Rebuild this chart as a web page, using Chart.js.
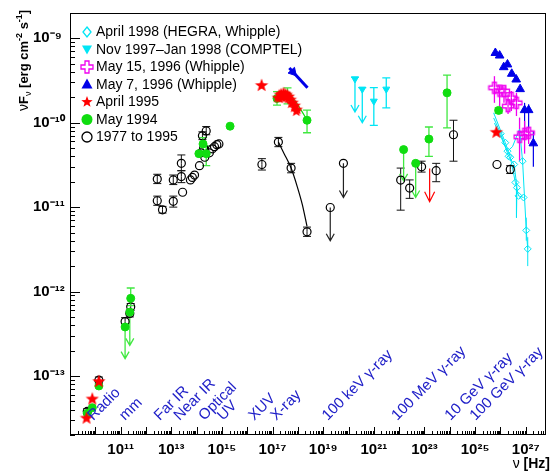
<!DOCTYPE html>
<html><head><meta charset="utf-8">
<script src="https://cdn.jsdelivr.net/npm/chart.js"></script>
<style>html,body{margin:0;padding:0;background:#fff;}canvas{display:block;}</style>
</head><body>
<canvas id="c" width="552" height="472"></canvas>
<script>
// ================= DATA =================
// 1977 to 1995 (black open circles)
const histNu = [4.8e9,1.38e10,1.5e11,2.3e11,2.5e11,2.8e12,2.8e12,4.5e12,1.2e13,1.2e13,2.5e13,2.5e13,2.8e13,5.7e13,6.8e13,8.3e13,1.3e14,1.5e14,1.9e14,1.7e14,2.4e14,2.1e14,3.2e14,4.2e14,5.1e14,6.3e14,7.6e14,3.8e16,1.7e17,5.4e17,2.3e18,1.15e22,2.6e22,7.7e22,2.9e23,1.4e24,7.3e25,2.45e26];
const histF  = [3.8e-14,8.9e-14,4.4e-13,5.5e-13,6.6e-13,2.15e-11,1.19e-11,9.3e-12,2.1e-11,1.17e-11,2.3e-11,3.3e-11,1.5e-11,2.1e-11,2.25e-11,2.4e-11,3.1e-11,4.4e-11,5.0e-11,7.0e-11,8.0e-11,3.9e-11,4.4e-11,4.9e-11,5.2e-11,5.5e-11,5.6e-11,3.2e-11,5.9e-11,2.9e-11,5.1e-12,2.09e-11,1.68e-11,3.0e-11,2.7e-11,7.2e-11,3.2e-11,2.8e-11];
const histLo = [3.5e-14,8.1e-14,3.9e-13,5.0e-13,6.0e-13,1.9e-11,1.05e-11,8.5e-12,1.85e-11,1.0e-11,1.95e-11,2.7e-11,null,null,null,null,null,null,null,6.3e-11,7.2e-11,null,null,null,null,null,null,2.75e-11,5.2e-11,2.55e-11,4.5e-12,9.2e-12,1.27e-11,2.6e-11,2.0e-11,3.5e-11,null,2.5e-11];
const histHi = [4.1e-14,9.7e-14,4.9e-13,6.0e-13,7.2e-13,2.45e-11,1.35e-11,1.02e-11,2.4e-11,1.35e-11,2.7e-11,4.15e-11,null,null,null,null,null,null,null,7.8e-11,9.0e-11,null,null,null,null,null,null,3.75e-11,6.7e-11,3.3e-11,5.8e-12,2.9e-11,2.1e-11,3.5e-11,3.3e-11,1.07e-10,null,3.1e-11];
const histUlNu = [1.9e19,6.3e19];
const histUlF  = [9.9e-12,3.3e-11];
const histUlTo = [4.0e-12,1.3e-11];
const histCurveNu = [1.7e17,2.9e17,5.4e17,9.5e17,1.5e18,2.3e18];
const histCurveF  = [5.9e-11,4.27e-11,2.9e-11,1.74e-11,1.07e-11,5.9e-12];

// May 1994 (green filled circles)
const mayNu = [4.8e9,7.6e9,1.38e10,2.5e11,1.23e14,1.8e14,2.4e14,2.1e15,1.5e17,3.9e17,2.3e18,1.5e23,7.8e23,8.5e25];
const mayF  = [3.6e-14,4.2e-14,7.6e-14,8.3e-13,4.3e-11,5.6e-11,4.3e-11,9.1e-11,1.94e-10,2.07e-10,1.07e-10,6.4e-11,2.26e-10,1.4e-10];
const mayLo = [null,null,null,6.8e-13,null,4.6e-11,3.1e-11,null,1.62e-10,1.67e-10,7.6e-11,4.0e-11,8.7e-11,1.3e-10];
const mayHi = [null,null,null,1.1e-12,null,6.65e-11,5.3e-11,null,2.33e-10,2.58e-10,1.41e-10,8.9e-11,3.66e-10,1.5e-10];
const mayUlNu = [1.5e11,2.3e11,1.5e22,4.5e22];
const mayUlF  = [3.8e-13,5.7e-13,4.8e-11,3.3e-11];
const mayUlTo = [1.6e-13,2.3e-13,2.05e-11,1.3e-11];
const mayCurveNu = [1.4e17,2.4e17,4.6e17,7.9e17,1.36e18,2.3e18];
const mayCurveF  = [2.0e-10,2.3e-10,2.18e-10,1.8e-10,1.4e-10,1.08e-10];

// April 1995 (red stars)
const aprNu = [4.5e9,7.6e9,1.38e10,3.7e16,1.55e17,1.86e17,2.2e17,2.7e17,3.2e17,3.8e17,4.6e17,5.5e17,6.6e17,7.9e17,9.5e17,1.86e17,2.45e17,3.2e17,4.2e17,5.5e17,7.2e17,8.7e17,6.9e25];
const aprF  = [3.2e-14,5.4e-14,8.7e-14,2.8e-10,2.0e-10,2.18e-10,2.24e-10,2.3e-10,2.24e-10,2.18e-10,2.07e-10,1.9e-10,1.75e-10,1.62e-10,1.45e-10,1.96e-10,2.0e-10,2.0e-10,1.96e-10,1.71e-10,1.53e-10,1.38e-10,7.8e-11];
const aprUlNu = [1.6e23];
const aprUlF  = [2.86e-11];
const aprUlTo = [1.16e-11];

// May 7, 1996 (Whipple) - blue triangles
const may7Nu = [6.3e25,9.3e25,1.35e26,1.9e26,2.8e26,4.2e26,6.0e26,9.0e26,1.3e27,2.0e27];
const may7F  = [6.7e-10,6.25e-10,4.55e-10,4.9e-10,3.8e-10,3.25e-10,2.5e-10,1.41e-10,1.41e-10,5.7e-11];
const may7Lo = [null,null,null,null,null,null,null,8.0e-11,8.5e-11,3.0e-11];
const may7Hi = [null,null,null,null,null,null,null,1.72e-10,1.65e-10,8.0e-11];
const may7XNu = [4.6e17,2.4e18];
const may7XF  = [4.46e-10,2.59e-10];
const may7XMarkNu = [6.4e17];
const may7XMarkF  = [3.98e-10];

// May 15, 1996 (Whipple) - magenta open crosses
const may15Nu = [5.8e25,9.3e25,1.38e26,2.0e26,2.7e26,4.3e26,5.7e26,9.0e26,1.3e27];
const may15F  = [2.6e-10,2.4e-10,2.37e-10,1.57e-10,1.97e-10,1.72e-10,6.8e-11,7.4e-11,7.6e-11];
const may15Lo = [1.72e-10,1.57e-10,1.72e-10,1.27e-10,1.38e-10,1.2e-10,3.5e-11,4.3e-11,5.6e-11];
const may15Hi = [3.56e-10,2.71e-10,2.71e-10,2.18e-10,2.37e-10,2.26e-10,1.15e-10,1.05e-10,8.7e-11];

// Nov 1997 - Jan 1998 (COMPTEL) - cyan down triangles
const comptelNu = [1.8e20,3.5e20,1.0e21,3.1e21];
const comptelF  = [3.3e-10,2.5e-10,1.8e-10,2.5e-10];
const comptelLo = [null,null,9.3e-11,1.5e-10];
const comptelHi = [3.47e-10,2.6e-10,2.6e-10,3.4e-10];
const comptelUlNu = [1.8e20,3.5e20];
const comptelUlF  = [3.3e-10,2.5e-10];
const comptelUlTo = [1.34e-10,1.0e-10];

// April 1998 (HEGRA, Whipple) - cyan open diamonds, nightly spectra
const hegra1Nu = [5.4e25,1.56e26,2.45e26,3.9e26,5.2e26,8.2e26];
const hegra1F  = [1.31e-10,5.8e-11,3.9e-11,1.96e-11,1.36e-11,1.3e-11];
const hegra2Nu = [5.4e25,1.03e26,2.1e26,3.5e26,4.5e26,4.3e26];
const hegra2F  = [1.14e-10,7.4e-11,4.0e-11,3.2e-11,1.7e-11,7.5e-12];
const hegra3Nu = [5.8e25,1.24e26,1.9e26,3.0e26,5.7e26,7.5e26,1.05e27,1.2e27];
const hegra3F  = [9.9e-11,6.1e-11,4.6e-11,5.2e-11,8.4e-11,3.5e-11,5.3e-12,3.2e-12];
const hegra3Lo = [null,null,null,null,null,null,4.0e-12,2.0e-12];
const hegra3Hi = [null,null,null,null,null,null,7.5e-12,4.4e-12];

// Band labels along the frequency axis
const bandNames = ["Radio","mm","Far IR","Near IR","Optical","UV","XUV","X-ray","100 keV γ-ray","100 MeV γ-ray","10 GeV γ-ray","100 GeV γ-ray"];
const bandNu    = [8.3e9,1.5e11,3.5e12,2.1e13,2.0e14,1.1e15,1.9e16,1.4e17,1.5e19,8.5e21,1.07e24,1.03e25];

// Axis ticks
const xTickExps  = [9,10,11,12,13,14,15,16,17,18,19,20,21,22,23,24,25,26,27];
const xLabelExps = [11,13,15,17,19,21,23,25,27];
const yTickExps  = [-13,-12,-11,-10,-9];
const yLabelExps = [-13,-12,-11,-10,-9];

const legendLabels = ["April 1998 (HEGRA, Whipple)","Nov 1997–Jan 1998 (COMPTEL)","May 15, 1996 (Whipple)","May 7, 1996 (Whipple)","April 1995","May 1994","1977 to 1995"];

// ================= STYLE =================
const C_CYAN = '#00e5f5', C_MAG = '#f000f0', C_BLUE = '#0000e8', C_RED = '#ff0000',
      C_GREEN = '#10dd10', C_GREEN_BAR = '#40e840', C_BLACK = '#000000', C_BAND = '#2020c8';
const FONT = '"Liberation Sans", Arial, Helvetica, sans-serif';

function starPath(g, x, y, r) {
  g.beginPath();
  for (let i = 0; i < 10; i++) {
    const rr = i % 2 === 0 ? r : r * 0.42;
    const a = -Math.PI / 2 + i * Math.PI / 5;
    const px = x + rr * Math.cos(a), py = y + rr * Math.sin(a);
    i === 0 ? g.moveTo(px, py) : g.lineTo(px, py);
  }
  g.closePath();
}
function plusPath(g, x, y, r) {
  const w = r * 0.33;
  g.beginPath();
  g.moveTo(x - w, y - r); g.lineTo(x + w, y - r); g.lineTo(x + w, y - w); g.lineTo(x + r, y - w);
  g.lineTo(x + r, y + w); g.lineTo(x + w, y + w); g.lineTo(x + w, y + r); g.lineTo(x - w, y + r);
  g.lineTo(x - w, y + w); g.lineTo(x - r, y + w); g.lineTo(x - r, y - w); g.lineTo(x - w, y - w);
  g.closePath();
}
function makeImg(size, draw) {
  const c = document.createElement('canvas'); c.width = size; c.height = size;
  draw(c.getContext('2d'), size / 2, size / 2); return c;
}
const starBig = makeImg(16, (g, x, y) => { starPath(g, x, y + 0.6, 7); g.fillStyle = C_RED; g.fill(); });
const starSmall = makeImg(14, (g, x, y) => { starPath(g, x, y + 0.5, 6); g.fillStyle = C_RED; g.fill(); });
const plusImg = makeImg(14, (g, x, y) => { plusPath(g, x, y, 5.5); g.strokeStyle = C_MAG; g.lineWidth = 1.4; g.stroke(); });

const pts = (nu, f) => nu.map((v, i) => ({ x: v, y: f[i] }));

const datasets = [
  { label: 'April 1995', data: pts(aprNu, aprF), showLine: false,
    pointStyle: aprNu.map((v, i) => (i < 4 || i === aprNu.length - 1) ? starBig : starSmall) },
  { label: 'May 15, 1996 (Whipple)', data: pts(may15Nu, may15F), showLine: false, pointStyle: plusImg },
  { label: 'May 7, 1996 (Whipple)', data: pts(may7Nu, may7F), showLine: false, pointStyle: 'triangle',
    pointRadius: 5, backgroundColor: C_BLUE, borderColor: C_BLUE, borderWidth: 1 },
  { label: 'May 7 X', data: pts(may7XMarkNu, may7XMarkF), showLine: false, pointStyle: 'triangle', rotation: 138,
    pointRadius: 5, backgroundColor: C_BLUE, borderColor: C_BLUE, borderWidth: 1 },
  { label: 'May 7 Xline', data: pts(may7XNu, may7XF), showLine: true, borderColor: C_BLUE, borderWidth: 3, pointRadius: 0 },
  { label: 'May 1994', data: pts(mayNu, mayF), showLine: false, pointStyle: 'circle', pointRadius: 4,
    backgroundColor: C_GREEN, borderColor: C_GREEN, borderWidth: 1 },
  { label: 'May 1994 UL', data: pts(mayUlNu, mayUlF), showLine: false, pointStyle: 'circle', pointRadius: 4,
    backgroundColor: C_GREEN, borderColor: C_GREEN, borderWidth: 1 },
  { label: '1977 to 1995', data: pts(histNu, histF), showLine: false, pointStyle: 'circle', pointRadius: 4,
    backgroundColor: 'rgba(0,0,0,0)', borderColor: C_BLACK, borderWidth: 1.2 },
  { label: '1977 UL', data: pts(histUlNu, histUlF), showLine: false, pointStyle: 'circle', pointRadius: 4,
    backgroundColor: 'rgba(0,0,0,0)', borderColor: C_BLACK, borderWidth: 1.2 },
  { label: 'COMPTEL', data: pts(comptelNu, comptelF), showLine: false, pointStyle: 'triangle', rotation: 180,
    pointRadius: 4, backgroundColor: C_CYAN, borderColor: C_CYAN, borderWidth: 1 },
  { label: 'HEGRA 1', data: pts(hegra1Nu, hegra1F), showLine: true, borderColor: C_CYAN, borderWidth: 1,
    pointStyle: 'rectRot', pointRadius: [0,3.5,3.5,3.5,3.5,3.5], backgroundColor: 'rgba(0,0,0,0)', pointBorderColor: C_CYAN, pointBorderWidth: 1 },
  { label: 'HEGRA 2', data: pts(hegra2Nu, hegra2F), showLine: true, borderColor: C_CYAN, borderWidth: 1,
    pointStyle: 'rectRot', pointRadius: [0,3.5,3.5,3.5,3.5,0], backgroundColor: 'rgba(0,0,0,0)', pointBorderColor: C_CYAN, pointBorderWidth: 1 },
  { label: 'HEGRA 3', data: pts(hegra3Nu, hegra3F), showLine: true, borderColor: C_CYAN, borderWidth: 1,
    pointStyle: 'rectRot', pointRadius: [0,0,3.5,0,0,3.5,3.5,3.5], backgroundColor: 'rgba(0,0,0,0)', pointBorderColor: C_CYAN, pointBorderWidth: 1 },
  { label: 'May 1994 model', data: pts(mayCurveNu, mayCurveF), showLine: true, borderColor: C_GREEN, borderWidth: 1.2,
    pointRadius: 0, tension: 0.4, cubicInterpolationMode: 'monotone' },
  { label: '1977 model', data: pts(histCurveNu, histCurveF), showLine: true, borderColor: C_BLACK, borderWidth: 1.2,
    pointRadius: 0, tension: 0.4, cubicInterpolationMode: 'monotone' }
];

const errGroups = [
  { nu: histNu, f: histF, lo: histLo, hi: histHi, color: '#111', lw: 1, cap: 4 },
  { nu: mayNu, f: mayF, lo: mayLo, hi: mayHi, color: C_GREEN_BAR, lw: 1.3, cap: 4 },
  { nu: may7Nu, f: may7F, lo: may7Lo, hi: may7Hi, color: C_BLUE, lw: 1.2, cap: 0 },
  { nu: may15Nu, f: may15F, lo: may15Lo, hi: may15Hi, color: C_MAG, lw: 1.3, cap: 0 },
  { nu: comptelNu, f: comptelF, lo: comptelLo, hi: comptelHi, color: C_CYAN, lw: 1.3, cap: 4 },
  { nu: hegra3Nu, f: hegra3F, lo: hegra3Lo, hi: hegra3Hi, color: C_CYAN, lw: 1, cap: 0 }
];
const ulGroups = [
  { nu: histUlNu, f: histUlF, to: histUlTo, color: '#222', lw: 1.2, hw: 4, hh: 7 },
  { nu: mayUlNu, f: mayUlF, to: mayUlTo, color: C_GREEN_BAR, lw: 1.3, hw: 4, hh: 7 },
  { nu: aprUlNu, f: aprUlF, to: aprUlTo, color: C_RED, lw: 1.2, hw: 5, hh: 10 },
  { nu: comptelUlNu, f: comptelUlF, to: comptelUlTo, color: C_CYAN, lw: 1.3, hw: 4, hh: 7 }
];

const SUP = {'0':'⁰','1':'¹','2':'²','3':'³','4':'⁴','5':'⁵','6':'⁶','7':'⁷','8':'⁸','9':'⁹','-':'⁻'};
const sup = e => String(e).split('').map(ch => SUP[ch]).join('');
const expOf = v => Math.round(Math.log10(v));

function legendSymbol(g, i, x, y) {
  g.save();
  g.lineWidth = 1.3;
  if (i === 0) { g.strokeStyle = C_CYAN; g.beginPath(); g.moveTo(x, y - 5); g.lineTo(x + 4, y); g.lineTo(x, y + 5); g.lineTo(x - 4, y); g.closePath(); g.stroke(); }
  else if (i === 1) { g.fillStyle = C_CYAN; g.beginPath(); g.moveTo(x - 5, y - 4); g.lineTo(x + 5, y - 4); g.lineTo(x, y + 5); g.closePath(); g.fill(); }
  else if (i === 2) { plusPath(g, x, y, 6); g.strokeStyle = C_MAG; g.stroke(); }
  else if (i === 3) { g.fillStyle = C_BLUE; g.beginPath(); g.moveTo(x, y - 6); g.lineTo(x + 5.5, y + 4); g.lineTo(x - 5.5, y + 4); g.closePath(); g.fill(); }
  else if (i === 4) { starPath(g, x, y, 6); g.fillStyle = C_RED; g.fill(); }
  else if (i === 5) { g.fillStyle = C_GREEN; g.beginPath(); g.arc(x, y, 5.5, 0, Math.PI * 2); g.fill(); }
  else { g.strokeStyle = '#000'; g.beginPath(); g.arc(x, y, 5, 0, Math.PI * 2); g.stroke(); }
  g.restore();
}

const sedPlugin = {
  id: 'sed',
  beforeDatasetsDraw(chart) {
    const { ctx: g, chartArea: a, scales: { x, y } } = chart;
    g.save();
    g.beginPath(); g.rect(a.left, a.top, a.right - a.left, a.bottom - a.top); g.clip();
    for (const eg of errGroups) {
      g.strokeStyle = eg.color; g.lineWidth = eg.lw;
      eg.nu.forEach((v, i) => {
        const px = x.getPixelForValue(v), py = y.getPixelForValue(eg.f[i]);
        for (const lim of [eg.lo[i], eg.hi[i]]) {
          if (lim == null) continue;
          const ly = y.getPixelForValue(lim);
          g.beginPath(); g.moveTo(px, py); g.lineTo(px, ly);
          if (eg.cap) { g.moveTo(px - eg.cap, ly); g.lineTo(px + eg.cap, ly); }
          g.stroke();
        }
      });
    }
    for (const ug of ulGroups) {
      g.strokeStyle = ug.color; g.lineWidth = ug.lw;
      ug.nu.forEach((v, i) => {
        const px = x.getPixelForValue(v), py = y.getPixelForValue(ug.f[i]), ty = y.getPixelForValue(ug.to[i]);
        g.beginPath(); g.moveTo(px, py); g.lineTo(px, ty);
        g.moveTo(px - ug.hw, ty - ug.hh); g.lineTo(px, ty); g.lineTo(px + ug.hw, ty - ug.hh);
        g.stroke();
      });
    }
    g.restore();
  },
  afterDatasetsDraw(chart) {
    const { ctx: g, chartArea: a, scales: { x, y } } = chart;
    g.save();
    // frame
    g.strokeStyle = '#000'; g.lineWidth = 1;
    g.strokeRect(a.left + 0.5, a.top + 0.5, a.right - a.left - 1, a.bottom - a.top - 1);
    // inward tick marks
    g.beginPath();
    for (let e = 9; e <= 27; e++) for (let k = 1; k <= 9; k++) {
      const v = k * Math.pow(10, e);
      if (v < x.min || v > x.max) continue;
      const px = Math.round(x.getPixelForValue(v)) + 0.5, len = k === 1 ? 8 : 4;
      g.moveTo(px, a.bottom); g.lineTo(px, a.bottom - len);
    }
    for (let e = -14; e <= -9; e++) for (let k = 1; k <= 9; k++) {
      const v = k * Math.pow(10, e);
      if (v < y.min || v > y.max) continue;
      const py = Math.round(y.getPixelForValue(v)) + 0.5, len = k === 1 ? 10 : 5;
      g.moveTo(a.left, py); g.lineTo(a.left + len, py);
    }
    g.stroke();
    // band labels
    g.fillStyle = C_BAND; g.font = '15px ' + FONT; g.textAlign = 'left'; g.textBaseline = 'alphabetic';
    bandNames.forEach((t, i) => {
      g.save();
      g.translate(x.getPixelForValue(bandNu[i]), a.bottom - 14);
      g.rotate(-Math.PI / 4);
      g.fillText(t, 0, 0);
      g.restore();
    });
    // legend
    g.fillStyle = '#000'; g.font = '14px ' + FONT; g.textBaseline = 'middle';
    legendLabels.forEach((t, i) => {
      const ly = a.top + 19 + i * 17.5;
      legendSymbol(g, i, a.left + 17, ly);
      g.fillStyle = '#000';
      g.fillText(t, a.left + 26, ly + 0.5);
    });
    g.restore();
  },
  afterDraw(chart) {
    const g = chart.ctx;
    g.save();
    g.fillStyle = '#000'; g.textBaseline = 'alphabetic'; g.textAlign = 'left';
    const drawRich = (parts, x0, y0) => {
      let cx = x0;
      for (const [t, f, dy] of parts) { g.font = f; g.fillText(t, cx, y0 + dy); cx += g.measureText(t).width; }
      return cx - x0;
    };
    // y title
    g.translate(28, 111); g.rotate(-Math.PI / 2);
    drawRich([['ν', '14px ' + FONT, 0], ['F', 'bold 13px ' + FONT, 0], ['ν', '9px ' + FONT, 3],
              [' [erg cm', 'bold 13px ' + FONT, 0], ['-2', 'bold 9px ' + FONT, -6],
              [' s', 'bold 13px ' + FONT, 0], ['-1', 'bold 9px ' + FONT, -6], [']', 'bold 13px ' + FONT, 0]], 0, 0);
    g.restore();
    // x title
    g.save();
    g.fillStyle = '#000'; g.textBaseline = 'alphabetic'; g.textAlign = 'left';
    g.font = 'bold 14px ' + FONT; const w1 = g.measureText(' [Hz]').width;
    g.font = '14px ' + FONT; const w0 = g.measureText('ν').width;
    const x0 = 550 - w1 - w0;
    g.fillText('ν', x0, 468);
    g.font = 'bold 14px ' + FONT; g.fillText(' [Hz]', x0 + w0, 468);
    g.restore();
  }
};

new Chart(document.getElementById('c'), {
  type: 'scatter',
  data: { datasets },
  options: {
    responsive: false, devicePixelRatio: 1, animation: false, events: [],
    layout: { padding: { left: 33, right: 4, top: 11, bottom: 0 } },
    plugins: { legend: { display: false }, tooltip: { enabled: false } },
    elements: { line: { fill: false } },
    scales: {
      x: {
        type: 'logarithmic', min: 1e9, max: 6.31e27,
        grid: { display: false, drawTicks: false, tickLength: 0 }, border: { display: false },
        afterBuildTicks: s => { s.ticks = xTickExps.map(e => ({ value: Math.pow(10, e) })); },
        afterFit: s => { s.height = 37; },
        ticks: { autoSkip: false, maxRotation: 0, minRotation: 0, padding: 6, color: '#000',
          font: { family: FONT, size: 15, weight: 'bold' },
          callback: v => xLabelExps.includes(expOf(v)) ? '10' + sup(expOf(v)) : '' }
      },
      y: {
        type: 'logarithmic', min: 1.995e-14, max: 1.995e-9,
        grid: { display: false, drawTicks: false, tickLength: 0 }, border: { display: false },
        afterBuildTicks: s => { s.ticks = yTickExps.map(e => ({ value: Math.pow(10, e) })); },
        afterFit: s => { s.width = 37; },
        ticks: { autoSkip: false, crossAlign: 'far', padding: 4, color: '#000',
          font: { family: FONT, size: 15, weight: 'bold' },
          callback: v => yLabelExps.includes(expOf(v)) ? '10' + sup(expOf(v)) : '' }
      }
    }
  },
  plugins: [sedPlugin]
});
</script>
</body></html>
